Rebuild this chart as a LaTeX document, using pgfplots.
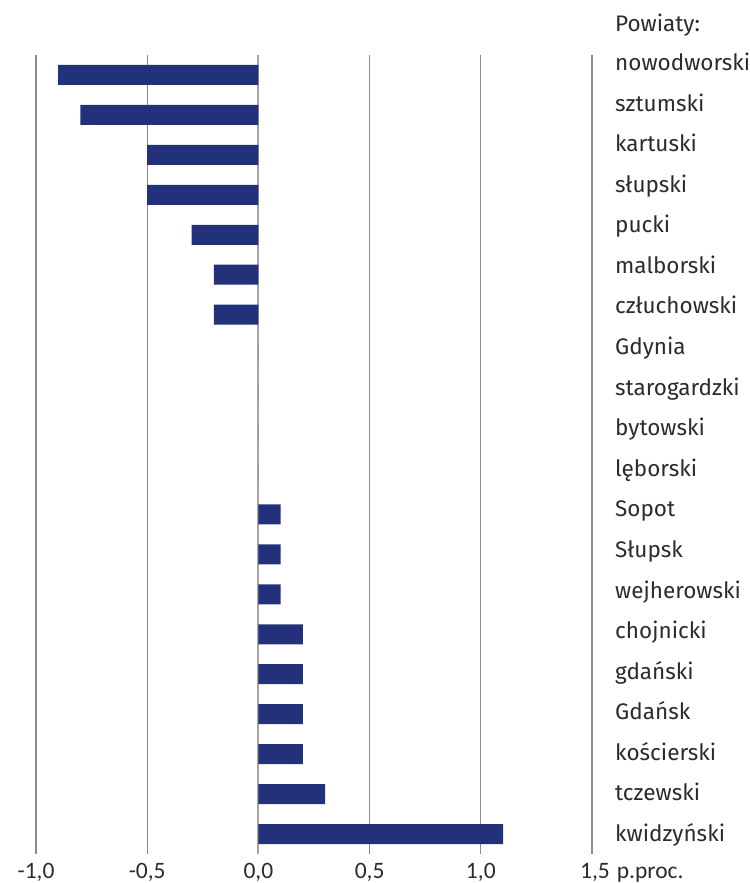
\documentclass[border=0pt]{standalone}
\usepackage{pgfplots}
\pgfplotsset{compat=1.18}
\usepackage{fontspec}
\setmainfont{Fira Sans}
\newfontfamily\tickfont{Carlito}
\definecolor{barblue}{HTML}{23307A}
\definecolor{gridgray}{HTML}{8C8C8C}
\definecolor{zerogray}{HTML}{A6A6A6}
\definecolor{txt}{HTML}{2B2B2B}
\begin{document}
\begin{tikzpicture}
\begin{axis}[
  scale only axis,
  width=556bp, height=799bp,
  xmin=-1, xmax=1.5,
  ymin=-0.5, ymax=19.5,
  y dir=reverse,
  axis line style={draw=none},
  tick style={draw=none},
  xtick={-1,-0.5,0,0.5,1,1.5},
  xticklabels={{-1,0},{-0,5},{0,0},{0,5},{1,0},{\hspace{6bp}1,5\rlap{\hspace{7bp}p.proc.}}},
  xmajorgrids,
  grid style={gridgray, line width=1.2bp},
  % names sit on a slightly wider pitch than the bars
  ytick={-0.0125,1.0033,2.0190,3.0348,4.0505,5.0663,6.0820,7.0978,8.1135,9.1293,
    10.1450,11.1608,12.1765,13.1923,14.2080,15.2238,16.2395,17.2553,18.2710,19.2868},
  yticklabels={nowodworski,sztumski,kartuski,słupski,pucki,malborski,człuchowski,Gdynia,starogardzki,bytowski,lęborski,Sopot,Słupsk,wejherowski,chojnicki,gdański,Gdańsk,kościerski,tczewski,kwidzyński},
  yticklabel pos=right,
  yticklabel style={anchor=base west, inner sep=0pt, xshift=23bp, yshift=4bp,
    font=\fontsize{22.5bp}{26bp}\selectfont},
  xticklabel style={anchor=base, inner sep=0pt, yshift=-24bp,
    font=\tickfont\fontsize{23.5bp}{26bp}\selectfont},
  ticklabel style={text=txt},
  clip=false,
]
\draw[zerogray, line width=2bp] (axis cs:0,-0.5) -- (axis cs:0,19.5);
\addplot[xbar, bar width=20bp, fill=barblue, draw=none] coordinates {
(-0.9,0) (-0.8,1) (-0.5,2) (-0.5,3) (-0.3,4) (-0.2,5) (-0.2,6)
(0,7) (0,8) (0,9) (0,10)
(0.1,11) (0.1,12) (0.1,13)
(0.2,14) (0.2,15) (0.2,16) (0.2,17)
(0.3,18) (1.1,19)
};
\node[anchor=base west, inner sep=0pt, font=\fontsize{22.5bp}{26bp}\selectfont, text=txt,
  xshift=23bp, yshift=4bp] at (axis cs:1.5,-1) {Powiaty:};
\end{axis}
\pgfresetboundingbox
\path[use as bounding box] ([shift={(-36bp,-29bp)}]current axis.south west) rectangle ++(750bp,883bp);
\end{tikzpicture}
\end{document}
